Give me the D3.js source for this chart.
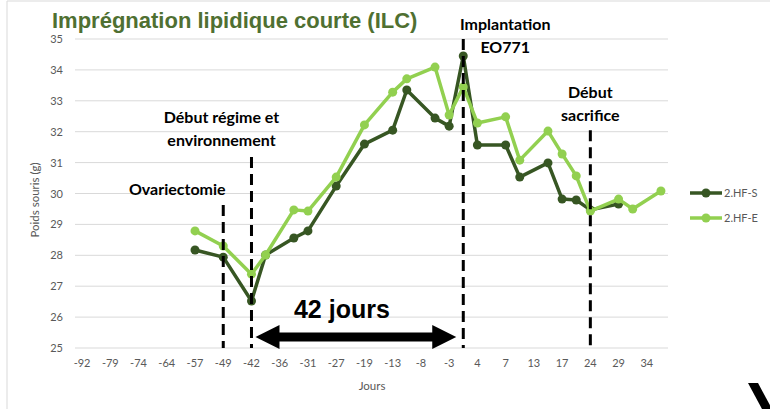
<!DOCTYPE html>
<html>
<head>
  <meta charset="utf-8">
  <title>Impregnation lipidique courte (ILC)</title>
  <style>
    body { margin: 0; background: #fff; }
    svg { display: block; font-family: Lato, "Open Sans", sans-serif; }
    .grid line { stroke: #d9d9d9; stroke-width: 1; }
    .axis text { fill: #595959; font-size: 11px; }
    .note { font-weight: bold; font-size: 16px; fill: #000; text-anchor: middle; }
    .marker-line { stroke: #000; stroke-width: 3; stroke-dasharray: 11,6; }
  </style>
  <script src="https://d3js.org/d3.v7.min.js"></script>
</head>
<body>
<svg width="770" height="409"></svg>
<script>
// day categories (only every other one is labelled on the axis)
var days = [-92, -85, -79, -77, -74, -70, -64, -60, -57, -52, -49, -45, -42, -39,
            -36, -34, -31, -29, -27, -22, -19, -15, -13, -10, -8, -6, -3, 0,
            4, 5, 7, 10, 13, 15, 17, 21, 24, 27, 29, 31, 34, 36];

// 2.HF-S (dark green), null = no weighing that day
var hfS = [null, null, null, null, null, null, null, null, 28.17, null, 27.94, null, 26.52, 28.01,
           null, 28.56, 28.79, null, 30.24, null, 31.60, null, 32.05, 33.35, null, 32.44, 32.18, 34.45,
           31.57, null, 31.57, 30.53, null, 30.99, 29.82, 29.79, 29.47, null, 29.66, null, null, null];

// 2.HF-E (light green)
var hfE = [null, null, null, null, null, null, null, null, 28.79, null, 28.30, null, 27.39, 28.01,
           null, 29.47, 29.43, null, 30.53, null, 32.22, null, 33.28, 33.71, null, 34.09, 32.54, 33.45,
           32.28, null, 32.48, 31.08, null, 32.02, 31.28, 30.57, 29.43, null, 29.82, 29.50, null, 30.08];

var yTicks = [25, 26, 27, 28, 29, 30, 31, 32, 33, 34, 35];

// event markers: day, top of dashed line (in grams), label lines
var events = [
  {day: -49, top: 29.63, label: ["Ovariectomie"], labelY: [195]},
  {day: -42, top: 31.18, label: ["Début régime et", "environnement"], labelY: [123, 146]},
  {day: 0, top: 35.0, label: ["Implantation", "EO771"], labelY: [30, 53]},
  {day: 24, top: 32.05, label: ["Début", "sacrifice"], labelY: [98, 121]}
];

var seriesNames = ["2.HF-S", "2.HF-E"];
var colors = ["#375623", "#92d050"];

var svg = d3.select("svg");

// frame of the pasted slide
svg.append("line").attr("x1", 7).attr("x2", 770).attr("y1", 1).attr("y2", 1).attr("stroke", "#d9d9d9");
svg.append("line").attr("x1", 7).attr("x2", 7).attr("y1", 1).attr("y2", 409).attr("stroke", "#d9d9d9");

var x = d3.scaleBand().domain(days).range([75, 668]).padding(0);
var y = d3.scaleLinear().domain([25, 35]).range([348, 39]);
var cx = function(d) { return x(d) + x.bandwidth() / 2; };

// gridlines
svg.append("g").attr("class", "grid")
  .selectAll("line").data(yTicks).enter().append("line")
    .attr("x1", 75).attr("x2", 668)
    .attr("y1", function(d) { return y(d); })
    .attr("y2", function(d) { return y(d); });

// y axis labels
svg.append("g").attr("class", "axis")
  .attr("transform", "translate(75,0)")
  .call(d3.axisLeft(y).tickValues(yTicks).tickSize(0).tickPadding(12))
  .call(function(g) { g.select(".domain").remove(); })
  .selectAll("text").style("font-family", "Lato, sans-serif");

// x axis, every other category labelled
svg.append("g").attr("class", "axis")
  .attr("transform", "translate(0,348)")
  .call(d3.axisBottom(x)
    .tickValues(days.filter(function(d, i) { return i % 2 === 0; }))
    .tickSize(0).tickPadding(11))
  .call(function(g) { g.select(".domain").remove(); })
  .selectAll("text").style("font-family", "Lato, sans-serif");

svg.append("text").attr("x", 372).attr("y", 390)
  .attr("text-anchor", "middle").attr("fill", "#595959").style("font-size", "11.5px")
  .text("Jours");

svg.append("text")
  .attr("transform", "translate(39,200) rotate(-90)")
  .attr("text-anchor", "middle").attr("fill", "#595959").style("font-size", "11.5px")
  .text("Poids souris (g)");

// title
svg.append("text").attr("x", 52).attr("y", 28)
  .attr("fill", "#4f7032")
  .style("font-family", "'Liberation Sans', Arial, sans-serif")
  .style("font-weight", "bold").style("font-size", "22px")
  .text("Imprégnation lipidique courte (ILC)");

// series
var line = d3.line()
  .x(function(d) { return cx(d.day); })
  .y(function(d) { return y(d.v); });

[hfS, hfE].forEach(function(vals, k) {
  var pts = days.map(function(d, i) { return {day: d, v: vals[i]}; })
    .filter(function(d) { return d.v !== null; });
  svg.append("path").datum(pts)
    .attr("fill", "none").attr("stroke", colors[k])
    .attr("stroke-width", 3.5).attr("stroke-linejoin", "round")
    .attr("d", line);
  svg.append("g").selectAll("circle").data(pts).enter().append("circle")
    .attr("cx", function(d) { return cx(d.day); })
    .attr("cy", function(d) { return y(d.v); })
    .attr("r", 4.5).attr("fill", colors[k]);
});

// dashed event lines and their labels
events.forEach(function(e) {
  svg.append("line").attr("class", "marker-line")
    .attr("x1", cx(e.day)).attr("x2", cx(e.day))
    .attr("y1", y(e.top)).attr("y2", y(25));
});
svg.selectAll(".note-g").data(events).enter().append("text")
  .attr("class", "note")
  .each(function(e, i) {
    var t = d3.select(this);
    var offs = [-46, -30, 42, 0];
    e.label.forEach(function(s, j) {
      t.append("tspan").attr("x", cx(e.day) + offs[i]).attr("y", e.labelY[j]).text(s);
    });
  });

// 42 jours arrow
var ax1 = cx(-42) + 4, ax2 = cx(0) - 7, ay = 337;
svg.append("line").attr("x1", ax1 + 20).attr("x2", ax2 - 20)
  .attr("y1", ay).attr("y2", ay).attr("stroke", "#000").attr("stroke-width", 9);
svg.append("path").attr("fill", "#000")
  .attr("d", "M" + ax1 + "," + ay + "L" + (ax1 + 24) + "," + (ay - 12) + "L" + (ax1 + 24) + "," + (ay + 12) + "Z");
svg.append("path").attr("fill", "#000")
  .attr("d", "M" + ax2 + "," + ay + "L" + (ax2 - 24) + "," + (ay - 12) + "L" + (ax2 - 24) + "," + (ay + 12) + "Z");
svg.append("text").attr("x", (ax1 + ax2) / 2 - 14).attr("y", 318)
  .attr("text-anchor", "middle")
  .style("font-family", "'Liberation Sans', Arial, sans-serif")
  .style("font-weight", "bold").style("font-size", "25px")
  .text("42 jours");

// legend
var legend = svg.append("g").selectAll("g").data(seriesNames).enter().append("g")
  .attr("transform", function(d, i) { return "translate(690," + (193 + i * 25) + ")"; });
legend.append("line").attr("x1", 0).attr("x2", 32)
  .attr("stroke", function(d, i) { return colors[i]; }).attr("stroke-width", 3.5);
legend.append("circle").attr("cx", 16).attr("r", 4.5)
  .attr("fill", function(d, i) { return colors[i]; });
legend.append("text").attr("x", 34).attr("dy", "0.35em")
  .attr("fill", "#595959").style("font-size", "11px")
  .text(function(d) { return d; });

// stray glyph at bottom right of the slide
svg.append("path").attr("fill", "#000")
  .attr("d", "M748,383L758,383L772,409L762,409Z");
</script>
</body>
</html>
